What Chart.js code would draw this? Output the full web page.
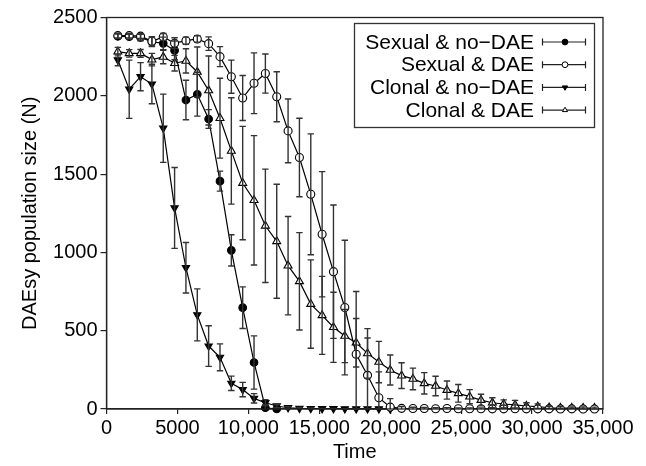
<!DOCTYPE html>
<html><head><meta charset="utf-8">
<script src="https://cdn.jsdelivr.net/npm/chart.js@4.4.0/dist/chart.umd.min.js"></script>
<style>html,body{margin:0;padding:0;background:#fff}#wrap{width:646px;height:466px}</style>
</head><body><div id="wrap"><canvas id="c" width="646" height="466"></canvas></div>
<script>
// ---- data ----
const times = [800,1600,2400,3200,4000,4800,5600,6400,7200,8000,8800,9600,10400,11200,12000,12800,13600,14400,15200,16000,16800,17600,18400,19200,20000,20800,21600,22400,23200,24000,24800,25600,26400,27200,28000,28800,29600,30400,31200,32000,32800,33600,34400];
const seriesNames = ['Sexual & no\u2212DAE', 'Sexual & DAE', 'Clonal & no\u2212DAE', 'Clonal & DAE'];
const sexNoDae    = [2380,2378,2372,2345,2335,2290,1973,2010,1852,1455,1013,647,297,8,0];
const sexNoDaeErr = [15,15,20,30,40,60,126,140,60,64,100,133,170,20,0];
const sexDae      = [2384,2384,2381,2348,2376,2336,2352,2363,2333,2250,2122,1986,2080,2142,1994,1776,1606,1371,1116,877,648,350,215,72,12,4,3,3,2,3,2,2,2,1,1,2,1,1,1,0,1,0,0];
const sexDaeErr   = [15,14,15,30,22,35,23,20,43,64,106,144,194,125,160,204,251,386,400,426,430,400,238,165,54,12,8,7,6,6,5,5,5,4,4,4,3,3,2,2,2,1,1];
const clonNoDae    = [2229,2042,2122,2075,1793,1284,902,601,402,330,164,124,68,40,19,8,4,3,2,2,1,1,1,1,0];
const clonNoDaeErr = [37,186,90,126,218,258,161,166,130,86,46,46,30,20,10,6,4,3,2,2,1,1,1,1,0];
const clonDae    = [2282,2271,2271,2231,2248,2208,2223,2152,2034,1857,1648,1443,1333,1170,1071,915,815,670,598,522,466,423,355,300,249,213,192,164,147,121,100,79,57,40,32,26,19,15,8,6,6,6,6];
const clonDaeErr = [27,24,25,40,43,50,77,160,220,255,340,362,413,362,364,314,311,282,249,224,170,155,158,132,96,82,69,68,62,58,56,45,37,32,26,29,21,18,10,8,7,7,6];
const xTickLabels = ['0','5000','10,000','15,000','20,000','25,000','30,000','35,000'];
const yTickLabels = ['0','500','1000','1500','2000','2500'];
const xTitle = 'Time';
const yTitle = 'DAEsy population size (N)';

const FONT = '"Liberation Sans", Arial, sans-serif';
Chart.defaults.font.family = FONT;
Chart.defaults.color = '#000';

function pts(vals){ return vals.map((v,i)=>({x: times[i], y: v})); }

const styles = [
  {pointStyle:'circle', pointRadius:3.8, fill:'#000', rotation:0, order:2},
  {pointStyle:'circle', pointRadius:4, fill:'#fff', rotation:0, order:0},
  {pointStyle:'triangle', pointRadius:4.2, fill:'#000', rotation:180, order:3},
  {pointStyle:'triangle', pointRadius:4.6, fill:'#fff', rotation:0, order:1}
];
const values = [sexNoDae, sexDae, clonNoDae, clonDae];
const errs = [sexNoDaeErr, sexDaeErr, clonNoDaeErr, clonDaeErr];

const datasets = values.map((v,i)=>({
  label: seriesNames[i],
  data: pts(v),
  err: errs[i],
  order: styles[i].order,
  borderColor:'#000',
  borderWidth:1.2,
  pointStyle: styles[i].pointStyle,
  pointRadius: styles[i].pointRadius,
  pointRotation: styles[i].rotation,
  pointBackgroundColor: styles[i].fill,
  pointBorderColor:'#000',
  pointBorderWidth:1.1,
  pointHoverRadius: styles[i].pointRadius,
  clip:false,
  tension:0
}));

const errorBars = {
  id:'errorBars',
  afterDatasetsDraw(chart){
    const ctx = chart.ctx, xs = chart.scales.x, ys = chart.scales.y;
    ctx.save();
    ctx.strokeStyle = '#333';
    ctx.lineWidth = 1.4;
    chart.data.datasets.forEach(ds=>{
      ds.data.forEach((p,j)=>{
        const e = ds.err[j];
        if (!e) return;
        const x = xs.getPixelForValue(p.x);
        const yt = ys.getPixelForValue(p.y + e);
        const yb = ys.getPixelForValue(Math.max(0, p.y - e));
        ctx.beginPath();
        ctx.moveTo(x, yt); ctx.lineTo(x, yb);
        ctx.moveTo(x-3.2, yt); ctx.lineTo(x+3.2, yt);
        if (p.y - e > 0) { ctx.moveTo(x-3.2, yb); ctx.lineTo(x+3.2, yb); }
        ctx.stroke();
      });
    });
    ctx.restore();
  }
};

function drawMarker(ctx, i, x, y, r){
  const s = styles[i];
  ctx.save();
  ctx.beginPath();
  if (s.pointStyle === 'circle') {
    ctx.arc(x, y, r, 0, Math.PI*2);
  } else {
    const dir = s.rotation === 180 ? 1 : -1;
    const h = r*1.5;
    ctx.moveTo(x, y + dir*h*0.66);
    ctx.lineTo(x - r*0.9, y - dir*h*0.34);
    ctx.lineTo(x + r*0.9, y - dir*h*0.34);
    ctx.closePath();
  }
  ctx.fillStyle = s.fill; ctx.fill();
  ctx.strokeStyle = '#000'; ctx.lineWidth = 1; ctx.stroke();
  ctx.restore();
}

const frameAndLegend = {
  id:'frameAndLegend',
  afterDraw(chart){
    const ctx = chart.ctx, a = chart.chartArea;
    ctx.save();
    ctx.strokeStyle = '#222'; ctx.lineWidth = 1.3;
    ctx.strokeRect(a.left, a.top, a.right - a.left, a.bottom - a.top);
    // legend
    const L = a.right - 248.5, T = a.top + 6, W = 240, H = 104;
    ctx.fillStyle = '#fff';
    ctx.fillRect(L, T, W, H);
    ctx.strokeStyle = '#333'; ctx.lineWidth = 1.3;
    ctx.strokeRect(L, T, W, H);
    ctx.font = '21px ' + FONT;
    ctx.fillStyle = '#000';
    ctx.textAlign = 'right'; ctx.textBaseline = 'middle';
    seriesNames.forEach((name,i)=>{
      const y = T + 18.5 + i*22.7;
      ctx.fillText(name, L + 179.5, y + 1);
      const g0 = L + 188, g1 = L + 231, gm = L + 210.5;
      ctx.strokeStyle = '#222'; ctx.lineWidth = 1.2;
      ctx.beginPath();
      ctx.moveTo(g0, y); ctx.lineTo(g1, y);
      ctx.moveTo(g0, y-3.5); ctx.lineTo(g0, y+3.5);
      ctx.moveTo(g1, y-3.5); ctx.lineTo(g1, y+3.5);
      ctx.stroke();
      drawMarker(ctx, i, gm, y, 2.9);
    });
    ctx.restore();
  }
};

new Chart(document.getElementById('c'), {
  type:'line',
  data:{ datasets },
  options:{
    responsive:false,
    animation:false,
    devicePixelRatio:1,
    layout:{ padding:{ left:0, right:43, top:17.5, bottom:0 } },
    plugins:{ legend:{display:false}, tooltip:{enabled:false} },
    scales:{
      x:{
        type:'linear', min:0, max:35000,
        ticks:{ stepSize:5000, autoSkip:false, maxRotation:0, padding:2, color:'#000',
                font:{size:20, family:FONT},
                callback:(v)=> xTickLabels[Math.round(v/5000)] },
        grid:{ drawOnChartArea:false, tickLength:5, color:'#222', lineWidth:1.2 },
        border:{ color:'#222', width:1.3 },
        title:{ display:true, text:xTitle, color:'#000', font:{size:20, family:FONT}, padding:{top:0,bottom:2} },
        afterFit:(s)=>{ s.height = 57; }
      },
      y:{
        min:0, max:2500,
        ticks:{ stepSize:500, padding:3, color:'#000', font:{size:20, family:FONT},
                callback:(v)=> yTickLabels[Math.round(v/500)] },
        grid:{ drawOnChartArea:false, tickLength:6, color:'#222', lineWidth:1.2 },
        border:{ color:'#222', width:1.3 },
        title:{ display:true, text:yTitle, color:'#000', font:{size:20, family:FONT}, padding:{top:18,bottom:0} },
        afterFit:(s)=>{ s.width = 106.5; }
      }
    }
  },
  plugins:[errorBars, frameAndLegend]
});
</script>
</body></html>
